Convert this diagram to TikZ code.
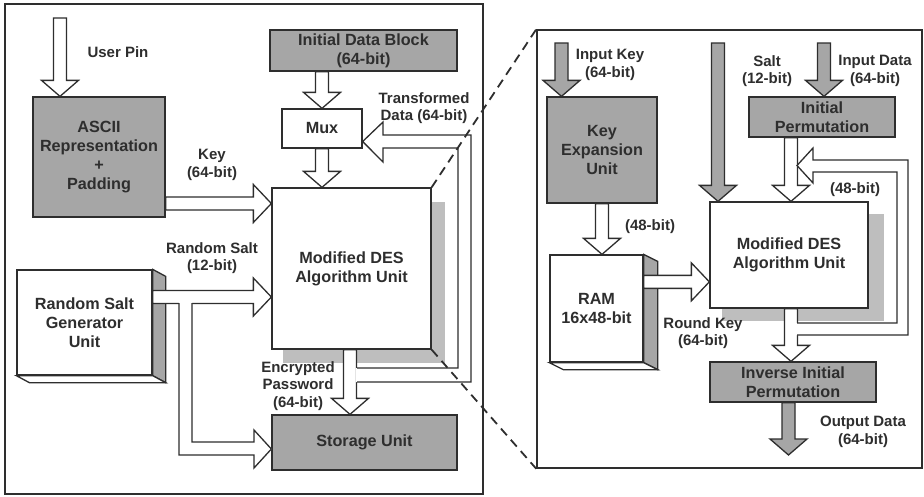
\documentclass[tikz,border=0pt]{standalone}
\usepackage{fontspec}
\setmainfont{Liberation Sans}
\usetikzlibrary{calc,backgrounds}
\definecolor{boxgray}{HTML}{A6A6A6}
\definecolor{shgray}{HTML}{BEBEBE}
\definecolor{ink}{HTML}{2E2E2E}
\newcommand\blkdown[3]{%
  \coordinate (bS) at (#2);
  \coordinate (bT) at (bS |- #3);
  \draw[#1] ($(bS)+(-6.5,0)$) -- ($(bT)+(-6.5,-16)$) -- ($(bT)+(-18.5,-16)$) -- (bT)
    -- ($(bT)+(18.5,-16)$) -- ($(bT)+(6.5,-16)$) -- ($(bS)+(6.5,0)$) -- cycle;}
\newcommand\blkright[3]{%
  \coordinate (bS) at (#2);
  \coordinate (bT) at (#3 |- bS);
  \draw[#1] ($(bS)+(0,-6.5)$) -- ($(bT)+(-18,-6.5)$) -- ($(bT)+(-18,-19)$) -- (bT)
    -- ($(bT)+(-18,19)$) -- ($(bT)+(-18,6.5)$) -- ($(bS)+(0,6.5)$) -- cycle;}
\begin{document}
\begin{tikzpicture}[x=1pt, y=-1pt, line join=miter,
  ln/.style={draw=ink, line width=1.3pt},
  box/.style={ln, fill=white, inner sep=0pt, align=center, text=ink, font=\fontsize{16.2}{19}\selectfont\bfseries},
  gbox/.style={box, fill=boxgray},
  harr/.style={ln, fill=white},
  garr/.style={ln, fill=boxgray},
  lbl/.style={align=center, inner sep=0pt, font=\fontsize{15}{17.5}\selectfont\bfseries, text=ink},
  frame/.style={draw=ink, line width=1.5pt, inner sep=0pt},
  dashln/.style={draw=ink, line width=1.8pt, dash pattern=on 9pt off 6pt}]
\useasboundingbox (0,0) rectangle (924,496);

% frames
\node[frame, minimum width=478pt, minimum height=490pt] (lp) at (244,249) {};
\node[frame, minimum width=385pt, minimum height=438pt] (rp) at (729.5,249) {};

% ---------- left panel ----------
\node[gbox, minimum width=132pt, minimum height=120pt] (ascii) at (99,157) {ASCII\\Representation\\+\\Padding};
\node[gbox, minimum width=187pt, minimum height=41pt] (idb) at (363.5,50.5) {Initial Data Block\\(64-bit)};
\node[box, minimum width=80pt, minimum height=39pt] (mux) at (322,128.5) {Mux};
\node[box, minimum width=159pt, minimum height=161pt] (des1) at (351.5,268.5) {Modified DES\\Algorithm Unit};
\node[box, minimum width=135pt, minimum height=105pt] (gen) at (84.5,322.5) {Random Salt\\Generator\\Unit};
\node[gbox, minimum width=185pt, minimum height=55pt] (storage) at (364.5,442.5) {Storage Unit};

% 3D faces of generator
\draw[ln, fill=boxgray] (gen.north east) -- ++(13,7) -- ($(gen.south east)+(13,7)$) -- (gen.south east) -- cycle;
\draw[ln, fill=white] (gen.south west) -- ++(13,7) -- ($(gen.south east)+(13,7)$) -- (gen.south east) -- cycle;

% labels
\node[lbl] (lpin) at (118,52) {User Pin};
\node[lbl] (lkey) at (212,165) {Key\\(64-bit)};
\node[lbl] (lsalt) at (212,258) {Random Salt\\(12-bit)};
\node[lbl] (ltr) at (424,108) {Transformed\\Data (64-bit)};
\node[lbl] (lenc) at (298,386) {Encrypted\\Password\\(64-bit)};

% arrows
\coordinate (pinTop) at (60,18);
\blkdown{harr}{pinTop}{ascii.north}
\coordinate (idbOut) at (idb.south -| mux.north);
\blkdown{harr}{idbOut}{mux.north}
\blkdown{harr}{mux.south}{des1.north}
\blkright{harr}{$(ascii.east)+(0,46.5)$}{des1.west}
\blkright{harr}{$(gen.east)+(0,-25.5)$}{des1.west}
% salt branch to storage
\fill[white] (179,302) -- (179,455) -- (254,455) -- (254,468) -- (272,449) -- (254,430) -- (254,442) -- (192,442) -- (192,302) -- cycle;
\draw[ln] (179,303) -- (179,455) -- (254,455) -- (254,468) -- (storage.west |- 0,449) -- (254,430) -- (254,442) -- (192,442) -- (192,303);
% encrypted password
\coordinate (encS) at ($(des1.south)+(-1.5,0)$);
\blkdown{harr}{encS}{storage.north}
% transformed data feedback loop
\fill[white] (356.2,368) -- (458,368) -- (458,148) -- (383,148) -- (383,163) -- (365,141.5) -- (383,122) -- (383,135) -- (471,135) -- (471,382) -- (356.2,382) -- cycle;
\draw[ln] (357,368) -- (458,368) -- (458,148) -- (383,148) -- (383,162) -- (mux.east |- 0,141.5) -- (383,122) -- (383,135) -- (471,135) -- (471,382) -- (357,382);

% ---------- right panel ----------
\node[gbox, minimum width=110pt, minimum height=106pt] (kexp) at (602,150) {Key\\Expansion\\Unit};
\node[box, minimum width=93pt, minimum height=107pt] (ram) at (596.5,308.5) {RAM\\16x48-bit};
\node[box, minimum width=158pt, minimum height=106pt] (des2) at (789,255) {Modified DES\\Algorithm Unit};
\node[gbox, minimum width=146pt, minimum height=40pt] (ip) at (822,117) {Initial\\Permutation};
\node[gbox, minimum width=166pt, minimum height=40pt] (iip) at (793,382) {Inverse Initial\\Permutation};

% 3D faces of RAM
\draw[ln, fill=boxgray] (ram.north east) -- ++(14,7) -- ($(ram.south east)+(14,7)$) -- (ram.south east) -- cycle;
\draw[ln, fill=white] (ram.south west) -- ++(14,7) -- ($(ram.south east)+(14,7)$) -- (ram.south east) -- cycle;

% labels
\node[lbl] (lik) at (610,65) {Input Key\\(64-bit)};
\node[lbl] (lsl) at (767,71) {Salt\\(12-bit)};
\node[lbl] (lid) at (875,71) {Input Data\\(64-bit)};
\node[lbl] (l48a) at (650,227) {(48-bit)};
\node[lbl] (l48b) at (855,190) {(48-bit)};
\node[lbl] (lrk) at (703,333) {Round Key\\(64-bit)};
\node[lbl] (lod) at (863,432) {Output Data\\(64-bit)};

% arrows
\coordinate (ikTop) at (561.5,43);
\blkdown{garr}{ikTop}{kexp.north}
\blkdown{harr}{kexp.south}{ram.north}
\blkright{harr}{$(ram.north east)+(0,27.5)$}{des2.west}
\coordinate (saltTop) at (718,43);
\blkdown{garr}{saltTop}{des2.north}
\coordinate (idTop) at (824,43);
\blkdown{garr}{idTop}{ip.north}
\coordinate (ipOut) at ($(ip.south)+(-31,0)$);
\blkdown{harr}{ipOut}{des2.north}
\coordinate (dOut) at ($(des2.south)+(2,0)$);
\blkdown{harr}{dOut}{iip.north}
\coordinate (iipOut) at ($(iip.south)+(-4.5,0)$);
\coordinate (outEnd) at (788.5,455);
\blkdown{garr}{iipOut}{outEnd}
% 48-bit feedback loop
\fill[white] (796.2,323) -- (897,323) -- (897,172) -- (813,172) -- (813,183) -- (797,165.5) -- (813,148) -- (813,160) -- (908,160) -- (908,335) -- (796.2,335) -- cycle;
\draw[ln] (797,323) -- (897,323) -- (897,172) -- (813,172) -- (813,183) -- (797,165.5) -- (813,148) -- (813,160) -- (908,160) -- (908,335) -- (797,335);

% zoom dashed lines
\draw[dashln] (des1.north east) -- (rp.north west);
\draw[dashln] (des1.south east) -- (rp.south west);

% shadows and background
\begin{scope}[on background layer]
\fill[white] (0,0) rectangle (924,496);
\fill[shgray] ($(des1.south west)+(12,13)$) rectangle ($(des1.north east)+(13,15)$);
\fill[shgray] ($(des2.south west)+(13,12)$) rectangle ($(des2.north east)+(15,13)$);
\end{scope}
\end{tikzpicture}
\end{document}
